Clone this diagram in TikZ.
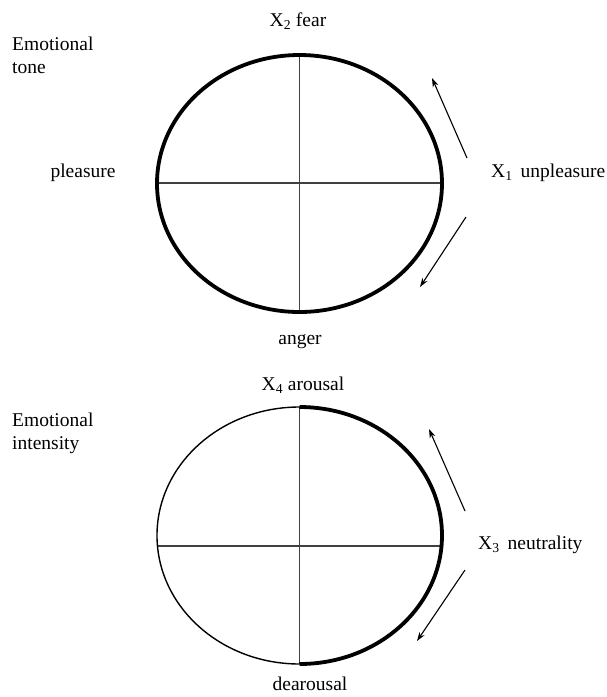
\documentclass[tikz,border=0pt]{standalone}
\usepackage{fontspec}
\setmainfont{Liberation Serif}
\usetikzlibrary{arrows.meta}
\begin{document}
\begin{tikzpicture}[x=1pt,y=-1pt,
  lbl/.style={inner sep=0pt,font=\fontsize{19.5}{23}\selectfont},
  thickline/.style={line width=3.8pt},
  thinline/.style={line width=1.4pt},
  axisline/.style={line width=1.3pt,black!75},
  arr/.style={line width=1.1pt,-{Stealth[length=9pt,width=6pt]}}]
\useasboundingbox (0,0) rectangle (606,697);
% top diagram
\coordinate (c1) at (299.5,183.5);
\draw[axisline] (299.5,55) -- (299.5,312);
\draw[axisline] (157,183) -- (442,183);
\draw[thickline] (c1) ellipse [x radius=142.5, y radius=128.5];
\coordinate (a1s) at (467,158); \coordinate (a1e) at (432,78);
\coordinate (a2s) at (466,217); \coordinate (a2e) at (420,287);
\draw[arr] (a1s) -- (a1e);
\draw[arr] (a2s) -- (a2e);
\node[lbl] (fear) at (298,21) {X\textsubscript{2} fear};
\node[lbl,anchor=west,align=left] (tone) at (12,55) {Emotional\\tone};
\node[lbl] (pleas) at (83,173) {pleasure};
\node[lbl,anchor=west] (unpl) at (491,173) {X\textsubscript{1}\, unpleasure};
\node[lbl] (anger) at (300,342) {anger};
% bottom diagram
\coordinate (c2) at (299.5,535.5);
\draw[axisline] (299.5,407) -- (299.5,664);
\draw[axisline] (157,546) -- (442,546);
\draw[thinline] (c2) ellipse [x radius=142.5, y radius=128.5];
\draw[thickline] (299.5,407) arc [start angle=-90, end angle=90, x radius=142.5, y radius=128.5];
\coordinate (b1s) at (465,511); \coordinate (b1e) at (429,429);
\coordinate (b2s) at (465,570); \coordinate (b2e) at (417,641);
\draw[arr] (b1s) -- (b1e);
\draw[arr] (b2s) -- (b2e);
\node[lbl] (arou) at (303,385) {X\textsubscript{4} arousal};
\node[lbl,anchor=west,align=left] (inten) at (12,433) {Emotional\\intensity};
\node[lbl,anchor=west] (neut) at (478,545) {X\textsubscript{3}\, neutrality};
\node[lbl] (dear) at (310,684) {dearousal};
\end{tikzpicture}
\end{document}
